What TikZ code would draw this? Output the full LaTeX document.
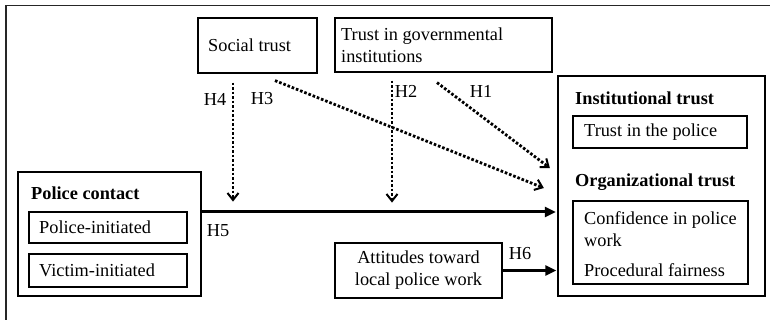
\documentclass[tikz,border=0pt]{standalone}
\usepackage{fontspec}
\setmainfont{Liberation Serif}
\usetikzlibrary{arrows.meta,calc}
\tikzset{
  thinbox/.style={draw, line width=1.2pt, inner sep=0pt},
  thickbox/.style={draw, line width=2.3pt, inner sep=0pt},
  txt/.style={inner sep=0pt, anchor=west, align=left, font=\fontsize{18.3}{22}\selectfont},
  btxt/.style={txt, font=\fontsize{18.3}{22}\selectfont\bfseries},
  lab/.style={inner sep=0pt, font=\fontsize{18.3}{22}\selectfont},
  dotarrow/.style={line width=2.8pt, dash pattern=on 2.6pt off 1.9pt,
    -{Straight Barb[length=7pt,width=11pt,line width=2pt]}},
  solidarrow/.style={line width=3pt, -{Triangle[length=11pt,width=10pt]}},
  frame/.style={line width=1.3pt, draw=black!85}
}
\begin{document}
\begin{tikzpicture}[x=1pt,y=-1pt]
\useasboundingbox (0,0) rectangle (770,320);
\fill[white] (0,0) rectangle (770,320);
% outer frame (only top and left edges visible)
\draw[frame] (770,5.5) -- (6,5.5) -- (6,320);

% top boxes
\node[thinbox, minimum width=119pt, minimum height=55pt] (social) at (257.5,45.5) {};
\node[txt] (socialt) at (208,45) {Social trust};
\node[thinbox, minimum width=217pt, minimum height=54pt] (gov) at (443.5,45) {};
\node[txt] (govt) at (341,45) {Trust in governmental\\institutions};

% outcome box
\node[thickbox, minimum width=207pt, minimum height=220pt] (inst) at (661.5,186) {};
\node[btxt] (instt) at (575,98) {Institutional trust};
\node[thinbox, minimum width=174pt, minimum height=32pt] (police) at (660,132) {};
\node[txt] (policet) at (584,132) {Trust in the police};
\node[btxt] (orgt) at (575,182) {Organizational trust};
\node[thinbox, minimum width=175pt, minimum height=83pt] (org) at (660.5,242.5) {};
\node[txt] (conft) at (584,229) {Confidence in police\\work};
\node[txt] (proct) at (584,270) {Procedural fairness};

% police contact box
\node[thickbox, minimum width=183pt, minimum height=124pt] (contact) at (109.5,234) {};
\node[btxt] (contactt) at (31,193) {Police contact};
\node[thinbox, minimum width=158pt, minimum height=31pt] (pi) at (108,227.5) {};
\node[txt] (pit) at (39,227.5) {Police-initiated};
\node[thinbox, minimum width=158pt, minimum height=33pt] (vi) at (108,270.5) {};
\node[txt] (vit) at (39,270.5) {Victim-initiated};

% attitudes box
\node[thickbox, minimum width=167pt, minimum height=55pt, align=center,
      font=\fontsize{18.3}{22}\selectfont] (att) at (418.5,270.5) {Attitudes toward\\local police work};

% connectors
\draw[solidarrow] ([yshift=22pt]contact.east) -- ([yshift=22pt,xshift=-1pt]contact.east -| inst.west);
\draw[solidarrow] (att.east) -- ([xshift=-0.5pt]att.east -| inst.west);
\draw[dotarrow] ([xshift=-24.5pt,yshift=-9pt]social.south) -- ([xshift=-24.5pt,yshift=-128pt]social.south);
\draw[dotarrow] ([xshift=17.5pt,yshift=-7pt]social.south) -- ([xshift=-13pt,yshift=-2pt]inst.west);
\draw[dotarrow] ([xshift=-51.5pt,yshift=-8pt]gov.south) -- ([xshift=-51.5pt,yshift=-130pt]gov.south);
\draw[dotarrow] ([xshift=-6.5pt,yshift=-10pt]gov.south) -- ([xshift=-7pt,yshift=18pt]inst.west);

% labels
\node[lab] (h4) at (215,99) {H4};
\node[lab] (h3) at (262,99) {H3};
\node[lab] (h2) at (406,91) {H2};
\node[lab] (h1) at (481,91) {H1};
\node[lab] (h5) at (218,231) {H5};
\node[lab] (h6) at (520,254) {H6};
\end{tikzpicture}
\end{document}
